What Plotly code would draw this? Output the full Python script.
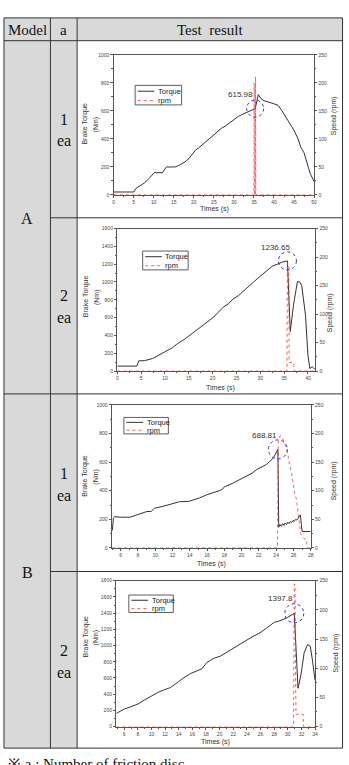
import plotly.graph_objects as go

W, H = 349, 765

# ---------------- data ----------------
a1_time = [0, 1, 2, 3, 4, 5, 5.6, 6.4, 7.6, 8.9, 10.1, 11.3, 12.2, 12.6, 13.2, 14, 15.5, 16.7, 17.8, 18.8,
           19.6, 20.4, 21.2, 22, 22.8, 23.7, 24.5, 25.3, 26.1, 27, 27.8, 28.6, 29.5, 30.3, 31.1, 31.9, 32.8,
           33.6, 34.3, 34.8, 35.3, 36.1, 36.8, 37.5, 38.5, 39.5, 40.5, 41, 42, 43, 44, 45, 46, 46.7, 47.5,
           48, 48.4, 49, 49.5, 50]
a1_torque = [20, 20, 18, 16, 18, 20, 47, 61, 83, 118, 158, 158, 158, 177, 200, 198, 200, 217, 235, 260,
             290, 319, 335, 355, 378, 402, 418, 437, 455, 478, 490, 508, 528, 548, 560, 572, 585,
             595, 603, 610, 615.98, 716, 686, 672, 665, 655, 645, 640, 600, 555, 510, 460, 400, 340, 300,
             260, 213, 154, 120, 95]
a1_rpm_time = [0, 35.0, 35.05, 35.1, 35.35, 35.4, 35.45, 50]
a1_rpm = [0, 0, 200, 0, 0, 211, 0, 0]

a2_time = [0, 4.1, 4.5, 5.7, 7.4, 8.8, 10.2, 11.5, 12.6, 14, 15, 16.4, 17.8, 19.1, 20.2, 21.2, 22.2, 23.3,
           24.3, 25.4, 26.4, 27.4, 28.5, 29.5, 30.5, 31.6, 32.6, 33.6, 34.7, 35.7, 36.3, 37.0, 37.8, 38.3,
           38.7, 39.5, 40.0, 40.4, 40.9, 41.45]
a2_torque = [56, 56, 115, 117, 141, 186, 223, 260, 308, 353, 393, 457, 512, 557, 605, 661, 716, 754,
             809, 846, 891, 939, 995, 1043, 1088, 1136, 1180, 1199, 1225, 1236.65, 445, 750, 1006, 1000,
             960, 624, 178, 30, 48, 22]
a2_rpm_time = [0, 35.6, 35.7, 36.0, 36.06, 37.05, 37.1, 41.5]
a2_rpm = [0, 0, 190, 185, 15, 15, 0, 0]

b1_time = [5.04, 5.16, 5.3, 6, 7.1, 7.6, 8.2, 9, 9.55, 9.9, 10.9, 12, 12.8, 13.9, 15.1, 15.9, 16.6, 17.4,
           17.8, 18, 18.9, 19.7, 20.4, 21.2, 21.8, 22.3, 22.9, 23.3, 23.7, 23.9, 24.2, 24.3, 24.45, 24.6,
           24.75, 24.9, 25.05, 25.2, 25.35, 25.5, 25.65, 25.8, 25.95, 26.1, 26.25, 26.4, 26.55, 26.8,
           27.0, 28]
b1_torque = [122, 208, 219, 215, 215, 226, 238, 254, 256, 277, 291, 307, 323, 326, 349, 370, 383, 400,
             411, 427, 450, 476, 499, 522, 550, 568, 584, 607, 630, 654, 688.81, 145, 165, 152,
             170, 158, 175, 163, 180, 170, 185, 178, 192, 186, 200, 195, 210, 231,
             115, 115]
b1_rpm_time = [5, 24.15, 24.25, 24.45, 24.65, 24.9, 25.1, 25.3, 25.45, 25.6, 25.8, 26.0, 26.15, 26.35,
               26.5, 26.7, 26.9, 27.2, 27.5, 27.6, 28]
b1_rpm = [0, 0, 188, 196, 195, 186, 178, 168, 150, 142, 130, 112, 95, 85, 62, 40, 22, 17, 15, 0, 0]

b2_time = [4.85, 6, 7, 8, 8.95, 9.9, 10.9, 11.85, 12.8, 13.8, 14.75, 15.7, 16.7, 17.4, 18.1, 19.1, 20.1,
           21.05, 22, 23, 23.9, 24.9, 25.9, 26.8, 27.6, 28, 29, 29.95, 30.95, 31.5, 31.9, 32.4, 32.9,
           33.3, 33.6, 34]
b2_torque = [163, 216, 245, 278, 327, 371, 420, 453, 482, 543, 604, 653, 686, 714, 788, 841, 869,
             918, 963, 1012, 1065, 1114, 1155, 1208, 1257, 1286, 1310, 1347, 1397.8, 473, 624, 910, 1012,
             992, 829, 571]
b2_rpm_time = [4.85, 30.85, 30.95, 31.05, 31.2, 32.25, 32.3, 34]
b2_rpm = [0, 0, 244, 244, 21, 21, 0, 0]

peak_time = [35.3, 35.7, 24.2, 30.95]
peak_value = [615.98, 1236.65, 688.81, 1397.8]
peak_label = ["615.98", "1236.65", "688.81", "1397.8"]

x_range = [[0, 50], [0, 41.5], [5, 28], [4.85, 34]]
x_dtick = [5, 5, 2, 2]
x_minor = [2.5, 2.5, 1, 1]
torque_max = [1000, 1600, 1000, 1800]
speed_max = [250, 250, 250, 250]

model_labels = ["A", "B"]
disc_labels = ["1", "2", "1", "2"]

torque_series = [(a1_time, a1_torque), (a2_time, a2_torque), (b1_time, b1_torque), (b2_time, b2_torque)]
rpm_series = [(a1_rpm_time, a1_rpm), (a2_rpm_time, a2_rpm), (b1_rpm_time, b1_rpm), (b2_rpm_time, b2_rpm)]

# ---------------- layout geometry (pixels) ----------------
plot_px = [(114, 316.7, 52.3, 193.3), (117.7, 317.7, 227.3, 371), (112.3, 313.3, 405, 549.3),
           (116.7, 317.7, 582.3, 729.3)]
legend_px = [(135.7, 83, 47, 19.7), (143.3, 250, 46, 19), (124.3, 417.7, 45, 16.6), (129.3, 596.7, 45, 17.6)]
circle_r = [8.5, 9, 9.5, 9.5]
label_shift = [(-15, 14), (-12, 13), (-13, 14), (-14, 15)]
xtitle_px = [(216.3, 207.8), (221.7, 388.3), (213.3, 565), (216.7, 745)]
ytitle_y = [122, 296, 477, 639]
rtitle_px = [(337, 114), (332.5, 312), (337, 482), (338.5, 655)]


def px(x):
    return x / W


def py(y):
    return 1 - y / H


SANS = "Liberation Sans, Arial, sans-serif"
SERIF = "Liberation Serif, Times New Roman, serif"
AX = "#555555"
TICKF = dict(family=SANS, size=5, color="#444444")
RED = "#ff3030"

fig = go.Figure()
layout = dict(width=W, height=H, margin=dict(l=0, r=0, t=0, b=0, pad=0), autosize=False,
              paper_bgcolor="white", plot_bgcolor="rgba(0,0,0,0)", showlegend=False)
shapes = []
annotations = []

# ---------------- table ----------------
LC = "#333333"
GRAY = "#d9d9d9"
TL, TR, TT, TB = 3, 345.5, 15, 751
C1, C2 = 50, 77
R_AB = 394
R_A12, R_B12 = 216.5, 573
HDR = 38

shapes.append(dict(type="rect", xref="paper", yref="paper", x0=px(TL), x1=px(C2), y0=py(TB), y1=py(TT),
                   fillcolor=GRAY, line=dict(width=0), layer="below"))
shapes.append(dict(type="rect", xref="paper", yref="paper", x0=px(C2), x1=px(TR), y0=py(HDR), y1=py(TT),
                   fillcolor=GRAY, line=dict(width=0), layer="below"))
shapes.append(dict(type="rect", xref="paper", yref="paper", x0=px(TL), x1=px(TR), y0=py(TB), y1=py(TT),
                   fillcolor="rgba(0,0,0,0)", line=dict(color=LC, width=1), layer="below"))
for (xa, ya, xb, yb) in [(C1, TT, C1, TB), (C2, TT, C2, TB), (TL, HDR, TR, HDR), (TL, R_AB, TR, R_AB),
                         (C1, R_A12, TR, R_A12), (C1, R_B12, TR, R_B12)]:
    shapes.append(dict(type="line", xref="paper", yref="paper", x0=px(xa), x1=px(xb), y0=py(ya), y1=py(yb),
                       line=dict(color=LC, width=1), layer="below"))


def text(x, y, s, size, family=SERIF, angle=0, color="#111111", xanchor="center", yanchor="middle"):
    annotations.append(dict(x=px(x), y=py(y), xref="paper", yref="paper", text=s, showarrow=False,
                            textangle=angle, xanchor=xanchor, yanchor=yanchor,
                            font=dict(family=family, size=size, color=color)))


text((TL + C1) / 2, 27, "Model", 15)
text((C1 + C2) / 2, 27, "a", 15)
text((C2 + TR) / 2, 27, "Test  result", 15)
text((TL + C1) / 2, 217, model_labels[0], 16)
text((TL + C1) / 2, 574, model_labels[1], 16)
row_centers = [127, 305, 484, 663]
for i, rc in enumerate(row_centers):
    text((C1 + C2) / 2, rc - 10, disc_labels[i], 16)
    text((C1 + C2) / 2, rc + 12, "ea", 16)
text(5, 757, "※ a : Number of friction disc", 15, xanchor="left", yanchor="top")

# ---------------- charts ----------------
for i in range(4):
    xl, xr, yt, yb = plot_px[i]
    xn = f"x{i + 1}" if i else "x"
    yln = f"y{2 * i + 1}" if i else "y"
    yrn = f"y{2 * i + 2}"
    xkey = f"xaxis{i + 1}" if i else "xaxis"
    ylkey = f"yaxis{2 * i + 1}" if i else "yaxis"
    yrkey = f"yaxis{2 * i + 2}"

    t, v = torque_series[i]
    fig.add_trace(go.Scatter(x=t, y=v, mode="lines", xaxis=xn, yaxis=yln, name="Torque",
                             line=dict(color="#333333", width=1)))
    rt, rv = rpm_series[i]
    fig.add_trace(go.Scatter(x=rt, y=rv, mode="lines", xaxis=xn, yaxis=yrn, name="rpm",
                             line=dict(color=RED, width=0.8, dash="dot")))

    common = dict(showgrid=False, zeroline=False, showline=True, linecolor=AX, linewidth=0.8,
                  ticks="outside", ticklen=2.5, tickwidth=0.6, tickcolor=AX, tickfont=TICKF)
    layout[xkey] = dict(domain=[px(xl), px(xr)], anchor=yln, range=x_range[i], tick0=0, dtick=x_dtick[i],
                        mirror=True,
                        minor=dict(ticks="outside", ticklen=1.5, tickwidth=0.5, tickcolor=AX, dtick=x_minor[i],
                                   tick0=0),
                        **common)
    layout[ylkey] = dict(domain=[py(yb), py(yt)], anchor=xn, range=[0, torque_max[i]], tick0=0, dtick=200,
                         minor=dict(ticks="outside", ticklen=1.5, tickwidth=0.5, tickcolor=AX, dtick=100),
                         **common)
    layout[yrkey] = dict(overlaying=yln, side="right", anchor=xn, range=[0, speed_max[i]], tick0=0, dtick=50,
                         minor=dict(ticks="outside", ticklen=1.5, tickwidth=0.5, tickcolor=AX, dtick=25),
                         **common)

    # peak highlight circle and label
    r = circle_r[i]
    shapes.append(dict(type="circle", xref=xn, yref=yln, xsizemode="pixel", ysizemode="pixel",
                       xanchor=peak_time[i], yanchor=peak_value[i], x0=-r, x1=r, y0=-r, y1=r,
                       line=dict(color="#3030d0", width=1, dash="dot")))
    dx, dy = label_shift[i]
    annotations.append(dict(x=peak_time[i], y=peak_value[i], xref=xn, yref=yln, text=peak_label[i],
                            showarrow=False, xshift=dx, yshift=dy,
                            font=dict(family=SANS, size=8, color="#333333")))

    # legend box
    lx, ly, lw, lh = legend_px[i]
    shapes.append(dict(type="rect", xref="paper", yref="paper", x0=px(lx), x1=px(lx + lw), y0=py(ly + lh),
                       y1=py(ly), fillcolor="white", line=dict(color="#333333", width=0.8)))
    for k, (nm, col, dash, wd) in enumerate([("Torque", "#333333", "solid", 1), ("rpm", RED, "dot", 0.8)]):
        yy = ly + lh * (0.3 if k == 0 else 0.78)
        shapes.append(dict(type="line", xref="paper", yref="paper", x0=px(lx + 2.6), x1=px(lx + 19.5),
                           y0=py(yy), y1=py(yy), line=dict(color=col, width=wd, dash=dash)))
        text(lx + 21, yy, nm, 7.5, family=SANS, color="#222222", xanchor="left")

    # axis titles
    xtx, xty = xtitle_px[i]
    text(xtx, xty, "Times (s)", 7, family=SANS, color="#333333")
    text(85.5, ytitle_y[i], "Brake Torque", 7, family=SANS, angle=-90, color="#333333")
    text(96.5, ytitle_y[i], "(Nm)", 7, family=SANS, angle=-90, color="#333333")
    rx, ry = rtitle_px[i]
    text(rx, ry, "Speed (rpm)", 7, family=SANS, angle=-90, color="#333333")

layout["shapes"] = shapes
layout["annotations"] = annotations
fig.update_layout(**layout)
fig.write_html("out.html")
